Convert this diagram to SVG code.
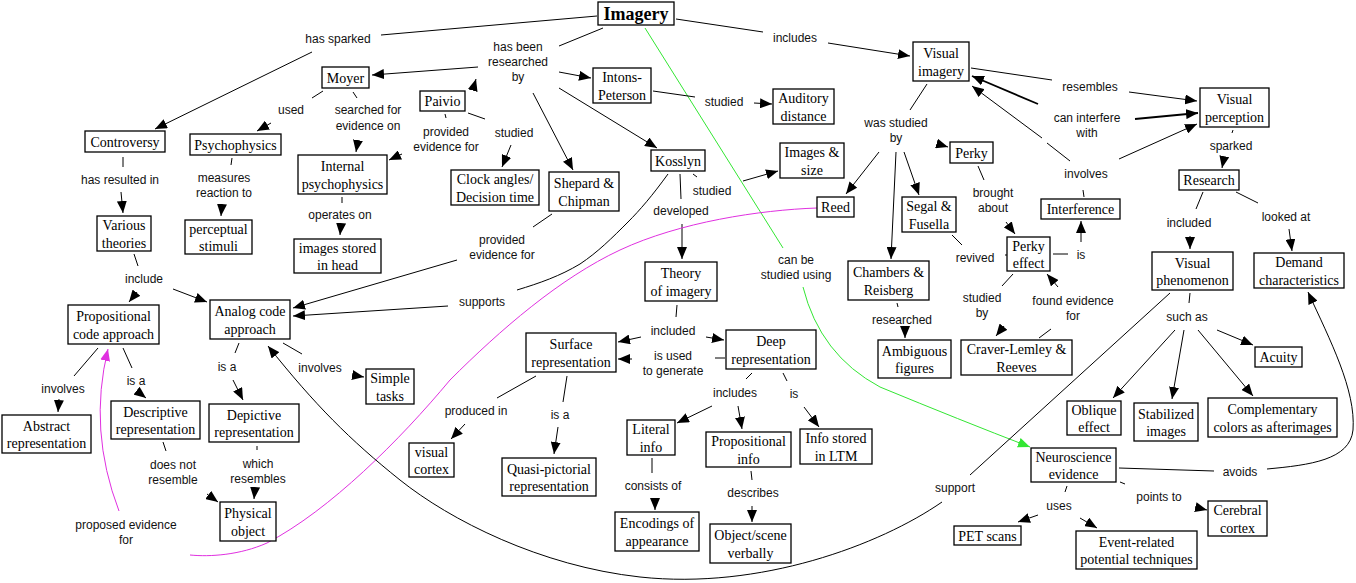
<svg xmlns="http://www.w3.org/2000/svg" width="1356" height="583" viewBox="0 0 1356 583">
<style>
.n rect{fill:#fff;stroke:#000;stroke-width:1.3}
.n text{font-family:"Liberation Serif","Times New Roman",serif;font-size:14px;text-anchor:middle;fill:#000}
.l{font-family:"Liberation Sans",Arial,sans-serif;font-size:12px;text-anchor:middle;fill:#111}
.c path{fill:none;stroke:#000;stroke-width:1}
.c path.a{marker-end:url(#ah)}
.c path.t{stroke-width:1.8}
.c path.g{stroke:#33e633;marker-end:url(#ag)}
.c path.g0{stroke:#33e633}
.c path.m{stroke:#e030e0}
.c path.ma{stroke:#e030e0;marker-end:url(#am)}
</style>
<defs>
<marker id="ah" viewBox="0 0 12 10" refX="12" refY="5" markerWidth="12" markerHeight="10" markerUnits="userSpaceOnUse" orient="auto"><path d="M0,0 L12,5 L0,10 z" fill="#000"/></marker>
<marker id="ag" viewBox="0 0 12 10" refX="12" refY="5" markerWidth="12" markerHeight="10" markerUnits="userSpaceOnUse" orient="auto"><path d="M0,0 L12,5 L0,10 z" fill="#33e633"/></marker>
<marker id="am" viewBox="0 0 12 10" refX="12" refY="5" markerWidth="12" markerHeight="10" markerUnits="userSpaceOnUse" orient="auto"><path d="M0,0 L12,5 L0,10 z" fill="#e030e0"/></marker>
</defs>
<rect width="1356" height="583" fill="#fff"/>
<g id="connectors" class="c">
<path d="M597,16 L381,35"/>
<path class="a" d="M312,52 L155,129"/>
<path d="M603,28 L559,46"/>
<path class="a" d="M478,67 L372,75"/>
<path class="a" d="M474,86 L476,79"/>
<path class="a" d="M559,72 L591,78"/>
<path class="a" d="M533,93 L573,170"/>
<path class="a" d="M559,88 L657,148"/>
<path d="M676,19 L763,32"/>
<path class="a" d="M828,43 L910,56"/>
<path class="g0" d="M645,28 L783,248"/>
<path class="g" d="M803,287 Q820,355 880,387 Q960,420 1030,447"/>
<path d="M323,91 L312,98"/>
<path class="a" d="M271,123 L257,131"/>
<path d="M353,92 L357,98"/>
<path class="a" d="M358,140 L356,152"/>
<path d="M445,114 L446,118"/>
<path class="a" d="M402,154 L389,160"/>
<path d="M468,113 L485,119"/>
<path class="a" d="M511,145 L502,167"/>
<path d="M653,91 L695,97"/>
<path class="a" d="M754,103 L772,104"/>
<path d="M123,157 L123,167"/>
<path class="a" d="M121,192 L123,213"/>
<path d="M232,158 L231,165"/>
<path class="a" d="M222,204 L221,216"/>
<path d="M342,197 L342,203"/>
<path class="a" d="M341,224 L340,235"/>
<path d="M134,254 L138,266"/>
<path class="a" d="M137,292 L129,302"/>
<path class="a" d="M173,289 L207,302"/>
<path d="M552,214 L533,227"/>
<path class="a" d="M457,260 L293,308"/>
<path d="M668,174 C652,196 640,210 628,222 C612,238 598,252 580,264 C560,276 540,283 517,290"/>
<path class="a" d="M448,306 L293,316"/>
<path d="M693,174 L697,177"/>
<path class="a" d="M743,181 L778,171"/>
<path d="M680,174 L681,199"/>
<path class="a" d="M682,224 L682,259"/>
<path class="m" d="M817,208 C760,210 680,222 620,250 C560,278 500,330 450,380 C400,440 330,510 267,543 C240,555 210,557 190,555"/>
<path class="ma" d="M119,511 Q88,430 108,349"/>
<path d="M927,84 L910,110"/>
<path class="a" d="M879,152 L846,194"/>
<path class="a" d="M896,152 L891,259"/>
<path class="a" d="M904,152 L919,195"/>
<path class="a" d="M938,144 L948,147"/>
<path d="M971,68 L1052,80"/>
<path class="a" d="M1129,92 L1197,101"/>
<path class="a t" d="M1038,104 L972,76"/>
<path class="a t" d="M1135,119 L1198,113"/>
<path d="M1084,197 L1083,190"/>
<path d="M1070,161 L1047,143"/>
<path class="a" d="M1042,138 L972,86"/>
<path class="a" d="M1119,159 L1197,124"/>
<path d="M1233,130 L1232,133"/>
<path class="a" d="M1224,158 L1222,168"/>
<path d="M1203,192 L1196,209"/>
<path class="a" d="M1190,236 L1190,249"/>
<path d="M1236,192 L1258,203"/>
<path class="a" d="M1289,229 L1292,251"/>
<path d="M978,166 L984,180"/>
<path class="a" d="M1006,222 L1015,234"/>
<path d="M952,235 L962,245"/>
<path d="M1005,255 L1007,255"/>
<path d="M1053,254 L1068,254"/>
<path class="a" d="M1081,242 L1081,221"/>
<path d="M1013,274 L1002,286"/>
<path class="a" d="M1004,326 L996,336"/>
<path d="M1039,338 L1051,329"/>
<path class="a" d="M1058,287 L1047,274"/>
<path d="M897,303 L898,307"/>
<path class="a" d="M905,327 L905,338"/>
<path d="M1190,293 L1189,303"/>
<path class="a" d="M1175,330 L1113,398"/>
<path class="a" d="M1184,330 L1172,399"/>
<path class="a" d="M1198,330 L1253,396"/>
<path class="a" d="M1217,330 L1253,345"/>
<path d="M1170,293 L970,475"/>
<path class="a" d="M942,502 C880,545 760,590 640,577 C540,566 450,520 400,480 C350,440 315,405 268,346"/>
<path d="M1119,468 L1214,471"/>
<path class="a" d="M1267,469 C1310,465 1350,460 1353,430 C1356,390 1330,340 1308,292"/>
<path d="M1067,486 L1065,492"/>
<path class="a" d="M1038,515 L1018,522"/>
<path class="a" d="M1080,518 L1097,528"/>
<path d="M1120,482 L1125,484"/>
<path class="a" d="M1195,507 L1207,510"/>
<path d="M98,348 L74,376"/>
<path class="a" d="M59,399 L58,412"/>
<path d="M123,348 L132,368"/>
<path class="a" d="M137,391 L146,398"/>
<path d="M239,343 L235,353"/>
<path class="a" d="M233,380 L243,400"/>
<path d="M283,343 L302,354"/>
<path class="a" d="M352,375 L364,377"/>
<path d="M163,442 L166,451"/>
<path class="a" d="M207,494 L218,502"/>
<path d="M257,446 L257,450"/>
<path class="a" d="M255,488 L254,499"/>
<path d="M677,305 L676,317"/>
<path class="a" d="M641,337 L618,342"/>
<path class="a" d="M706,337 L724,340"/>
<path d="M725,358 L715,358"/>
<path class="a" d="M632,359 L618,359"/>
<path d="M752,373 L746,379"/>
<path class="a" d="M712,406 L677,423"/>
<path class="a" d="M738,406 L742,429"/>
<path d="M783,373 L787,381"/>
<path class="a" d="M804,407 L819,427"/>
<path d="M536,376 L497,398"/>
<path class="a" d="M465,424 L451,439"/>
<path d="M567,376 L563,402"/>
<path class="a" d="M558,427 L554,454"/>
<path d="M652,458 L652,473"/>
<path class="a" d="M655,498 L655,510"/>
<path d="M751,471 L752,480"/>
<path class="a" d="M752,506 L752,522"/>
</g>
<g id="labels" class="l">
<text x="338" y="43">has sparked</text>
<text x="518" y="51">has been</text>
<text x="518" y="66">researched</text>
<text x="518" y="81">by</text>
<text x="795" y="42">includes</text>
<text x="291" y="114">used</text>
<text x="368" y="114">searched for</text>
<text x="368" y="130">evidence on</text>
<text x="446" y="136">provided</text>
<text x="446" y="151">evidence for</text>
<text x="514" y="137">studied</text>
<text x="724" y="106">studied</text>
<text x="120" y="184">has resulted in</text>
<text x="224" y="182">measures</text>
<text x="224" y="197">reaction to</text>
<text x="340" y="219">operates on</text>
<text x="144" y="283">include</text>
<text x="502" y="244">provided</text>
<text x="502" y="259">evidence for</text>
<text x="712" y="195">studied</text>
<text x="681" y="215">developed</text>
<text x="796" y="264">can be</text>
<text x="796" y="279">studied using</text>
<text x="482" y="306">supports</text>
<text x="896" y="127">was studied</text>
<text x="896" y="142">by</text>
<text x="1090" y="91">resembles</text>
<text x="1087" y="122">can interfere</text>
<text x="1087" y="137">with</text>
<text x="1231" y="150">sparked</text>
<text x="993" y="197">brought</text>
<text x="993" y="212">about</text>
<text x="1086" y="178">involves</text>
<text x="1189" y="227">included</text>
<text x="1286" y="221">looked at</text>
<text x="975" y="262">revived</text>
<text x="1081" y="259">is</text>
<text x="982" y="302">studied</text>
<text x="982" y="317">by</text>
<text x="1073" y="305">found evidence</text>
<text x="1073" y="320">for</text>
<text x="902" y="324">researched</text>
<text x="136" y="385">is a</text>
<text x="63" y="393">involves</text>
<text x="227" y="371">is a</text>
<text x="320" y="372">involves</text>
<text x="173" y="469">does not</text>
<text x="173" y="484">resemble</text>
<text x="258" y="468">which</text>
<text x="258" y="483">resembles</text>
<text x="126" y="529">proposed evidence</text>
<text x="126" y="544">for</text>
<text x="673" y="335">included</text>
<text x="673" y="360">is used</text>
<text x="673" y="375">to generate</text>
<text x="476" y="415">produced in</text>
<text x="560" y="419">is a</text>
<text x="735" y="397">includes</text>
<text x="794" y="398">is</text>
<text x="653" y="490">consists of</text>
<text x="753" y="497">describes</text>
<text x="1187" y="321">such as</text>
<text x="955" y="492">support</text>
<text x="1240" y="476">avoids</text>
<text x="1059" y="510">uses</text>
<text x="1159" y="501">points to</text>
</g>
<g id="imagery" class="n"><rect x="598" y="2" width="76" height="23"/><text x="636" y="20" style="font-weight:bold;font-size:18px">Imagery</text></g>
<g id="moyer" class="n"><rect x="322" y="67" width="47" height="21"/><text x="345.5" y="82.5">Moyer</text></g>
<g id="paivio" class="n"><rect x="420" y="91" width="45" height="20"/><text x="442.5" y="106">Paivio</text></g>
<g id="intons" class="n"><rect x="593" y="68" width="58" height="35"/><text x="622" y="82">Intons-</text><text x="622" y="99.5">Peterson</text></g>
<g id="auditory" class="n"><rect x="773" y="89" width="61" height="35"/><text x="803.5" y="103">Auditory</text><text x="803.5" y="120.5">distance</text></g>
<g id="visimagery" class="n"><rect x="913" y="42" width="56" height="39"/><text x="941" y="58">Visual</text><text x="941" y="75.5">imagery</text></g>
<g id="visperception" class="n"><rect x="1200" y="88" width="69" height="39"/><text x="1234.5" y="104">Visual</text><text x="1234.5" y="121.5">perception</text></g>
<g id="controversy" class="n"><rect x="85" y="131" width="80" height="21"/><text x="125" y="146.5">Controversy</text></g>
<g id="psychophysics" class="n"><rect x="190" y="134" width="91" height="21"/><text x="235.5" y="149.5">Psychophysics</text></g>
<g id="internal" class="n"><rect x="298" y="155" width="89" height="39"/><text x="342.5" y="171">Internal</text><text x="342.5" y="188.5">psychophysics</text></g>
<g id="clock" class="n"><rect x="451" y="170" width="88" height="35"/><text x="495" y="184">Clock angles/</text><text x="495" y="201.5">Decision time</text></g>
<g id="shepard" class="n"><rect x="549" y="172" width="70" height="39"/><text x="584" y="188">Shepard &amp;</text><text x="584" y="205.5">Chipman</text></g>
<g id="kosslyn" class="n"><rect x="651" y="150" width="54" height="21"/><text x="678" y="165.5">Kosslyn</text></g>
<g id="imagessize" class="n"><rect x="780" y="143" width="64" height="35"/><text x="812" y="157">Images &amp;</text><text x="812" y="174.5">size</text></g>
<g id="reed" class="n"><rect x="817" y="197" width="37" height="20"/><text x="835.5" y="212">Reed</text></g>
<g id="perky" class="n"><rect x="950" y="142" width="43" height="21"/><text x="971.5" y="157.5">Perky</text></g>
<g id="research" class="n"><rect x="1179" y="170" width="60" height="20"/><text x="1209" y="185">Research</text></g>
<g id="segal" class="n"><rect x="902" y="197" width="54" height="35"/><text x="929" y="211">Segal &amp;</text><text x="929" y="228.5">Fusella</text></g>
<g id="interference" class="n"><rect x="1041" y="199" width="79" height="20"/><text x="1080.5" y="214">Interference</text></g>
<g id="various" class="n"><rect x="97" y="216" width="54" height="35"/><text x="124" y="230">Various</text><text x="124" y="247.5">theories</text></g>
<g id="perceptual" class="n"><rect x="185" y="220" width="67" height="34"/><text x="218.5" y="233.5">perceptual</text><text x="218.5" y="251">stimuli</text></g>
<g id="imagesstored" class="n"><rect x="294" y="239" width="87" height="34"/><text x="337.5" y="252.5">images stored</text><text x="337.5" y="270">in head</text></g>
<g id="theory" class="n"><rect x="645" y="262" width="72" height="39"/><text x="681" y="278">Theory</text><text x="681" y="295.5">of imagery</text></g>
<g id="chambers" class="n"><rect x="848" y="261" width="81" height="39"/><text x="888.5" y="277">Chambers &amp;</text><text x="888.5" y="294.5">Reisberg</text></g>
<g id="perkyeffect" class="n"><rect x="1007" y="237" width="43" height="34"/><text x="1028.5" y="250.5">Perky</text><text x="1028.5" y="268">effect</text></g>
<g id="visphen" class="n"><rect x="1152" y="252" width="81" height="38"/><text x="1192.5" y="267.5">Visual</text><text x="1192.5" y="285">phenomenon</text></g>
<g id="demand" class="n"><rect x="1254" y="253" width="90" height="35"/><text x="1299" y="267">Demand</text><text x="1299" y="284.5">characteristics</text></g>
<g id="propcode" class="n"><rect x="68" y="305" width="91" height="39"/><text x="113.5" y="321">Propositional</text><text x="113.5" y="338.5">code approach</text></g>
<g id="analog" class="n"><rect x="210" y="300" width="80" height="39"/><text x="250" y="316">Analog code</text><text x="250" y="333.5">approach</text></g>
<g id="surface" class="n"><rect x="526" y="333" width="90" height="39"/><text x="571" y="349">Surface</text><text x="571" y="366.5">representation</text></g>
<g id="deep" class="n"><rect x="726" y="330" width="90" height="39"/><text x="771" y="346">Deep</text><text x="771" y="363.5">representation</text></g>
<g id="ambiguous" class="n"><rect x="878" y="340" width="73" height="38"/><text x="914.5" y="355.5">Ambiguous</text><text x="914.5" y="373">figures</text></g>
<g id="craver" class="n"><rect x="961" y="340" width="111" height="35"/><text x="1016.5" y="354">Craver-Lemley &amp;</text><text x="1016.5" y="371.5">Reeves</text></g>
<g id="acuity" class="n"><rect x="1255" y="347" width="47" height="20"/><text x="1278.5" y="362">Acuity</text></g>
<g id="simple" class="n"><rect x="366" y="369" width="48" height="35"/><text x="390" y="383">Simple</text><text x="390" y="400.5">tasks</text></g>
<g id="oblique" class="n"><rect x="1067" y="401" width="54" height="34"/><text x="1094" y="414.5">Oblique</text><text x="1094" y="432">effect</text></g>
<g id="stabilized" class="n"><rect x="1134" y="403" width="64" height="38"/><text x="1166" y="418.5">Stabilized</text><text x="1166" y="436">images</text></g>
<g id="complementary" class="n"><rect x="1208" y="398" width="129" height="39"/><text x="1272.5" y="414">Complementary</text><text x="1272.5" y="431.5">colors as afterimages</text></g>
<g id="descriptive" class="n"><rect x="111" y="401" width="89" height="38"/><text x="155.5" y="416.5">Descriptive</text><text x="155.5" y="434">representation</text></g>
<g id="depictive" class="n"><rect x="209" y="404" width="90" height="38"/><text x="254" y="419.5">Depictive</text><text x="254" y="437">representation</text></g>
<g id="abstract" class="n"><rect x="2" y="415" width="89" height="38"/><text x="46.5" y="430.5">Abstract</text><text x="46.5" y="448">representation</text></g>
<g id="literal" class="n"><rect x="627" y="420" width="48" height="35"/><text x="651" y="434">Literal</text><text x="651" y="451.5">info</text></g>
<g id="propinfo" class="n"><rect x="706" y="432" width="85" height="35"/><text x="748.5" y="446">Propositional</text><text x="748.5" y="463.5">info</text></g>
<g id="ltm" class="n"><rect x="800" y="429" width="72" height="35"/><text x="836" y="443">Info stored</text><text x="836" y="460.5">in LTM</text></g>
<g id="viscortex" class="n"><rect x="409" y="443" width="45" height="34"/><text x="431.5" y="456.5">visual</text><text x="431.5" y="474">cortex</text></g>
<g id="quasi" class="n"><rect x="502" y="458" width="94" height="38"/><text x="549" y="473.5">Quasi-pictorial</text><text x="549" y="491">representation</text></g>
<g id="neuro" class="n"><rect x="1031" y="448" width="85" height="34"/><text x="1073.5" y="461.5">Neuroscience</text><text x="1073.5" y="479">evidence</text></g>
<g id="physical" class="n"><rect x="220" y="502" width="56" height="39"/><text x="248" y="518">Physical</text><text x="248" y="535.5">object</text></g>
<g id="cerebral" class="n"><rect x="1208" y="501" width="59" height="35"/><text x="1237.5" y="515">Cerebral</text><text x="1237.5" y="532.5">cortex</text></g>
<g id="encodings" class="n"><rect x="615" y="512" width="84" height="39"/><text x="657" y="528">Encodings of</text><text x="657" y="545.5">appearance</text></g>
<g id="objectscene" class="n"><rect x="710" y="524" width="81" height="39"/><text x="750.5" y="540">Object/scene</text><text x="750.5" y="557.5">verbally</text></g>
<g id="pet" class="n"><rect x="954" y="526" width="67" height="19"/><text x="987.5" y="540.5">PET scans</text></g>
<g id="event" class="n"><rect x="1076" y="531" width="121" height="38"/><text x="1136.5" y="546.5">Event-related</text><text x="1136.5" y="564">potential techniques</text></g>
</svg>
